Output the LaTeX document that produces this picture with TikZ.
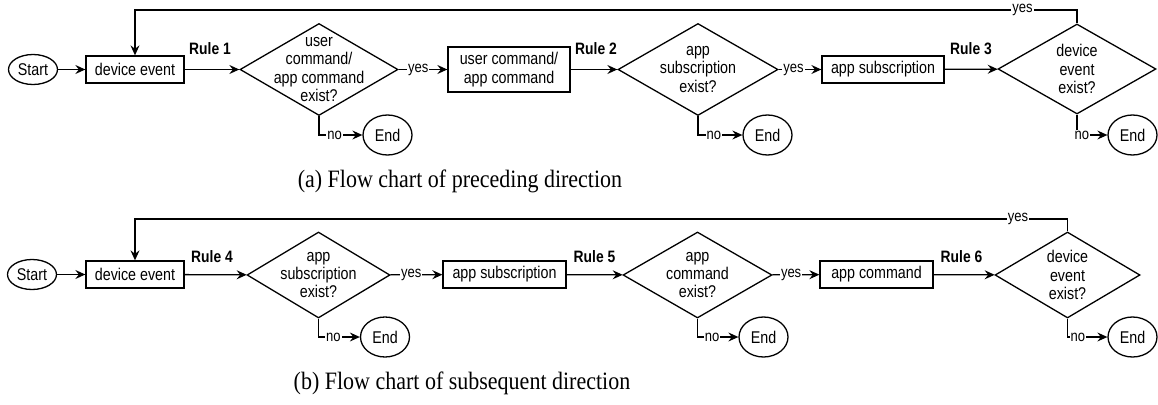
\documentclass[tikz,border=0pt]{standalone}
\usepackage{fontspec}
\newfontfamily\diagfont{Liberation Sans}[FakeStretch=0.84]
\newfontfamily\capfont{Liberation Serif}[FakeStretch=0.88]
\usetikzlibrary{shapes.geometric,arrows.meta}

\begin{document}
\begin{tikzpicture}[x=1pt,y=-1pt,
  txt/.style={font=\diagfont\fontsize{17}{18.3}\selectfont},
  proc/.style={txt, draw, line width=1.3pt, rectangle, inner sep=0pt, minimum height=27pt, align=center},
  term/.style={txt, draw, line width=1.3pt, ellipse, inner sep=0pt, minimum width=49pt, minimum height=30pt},
  decis/.style={draw, line width=1.3pt, diamond, inner sep=0pt},
  dtext/.style={txt, align=center, inner sep=0pt},
  flow/.style={line width=1.3pt, -{Stealth[length=10pt,width=9pt,inset=3.5pt]}},
  lbl/.style={fill=white, inner sep=1pt, font=\diagfont\fontsize{15.5}{16}\selectfont},
  rulelbl/.style={anchor=base, font=\diagfont\bfseries\fontsize{16.5}{18}\selectfont},
  captext/.style={font=\capfont\fontsize{25}{27}\selectfont}
]
\useasboundingbox (0,0) rectangle (1158,404);

% ---------- (a) preceding direction ----------
\node[term, minimum height=30pt] (sa) at (33,69.5) {Start};
\node[proc, minimum width=98pt] (pa1) at (135,69.5) {device event};
\node[decis, minimum width=158pt, minimum height=92pt] (da1) at (319,69.5) {};
\node[dtext] (ta1) at (da1) {user\\command/\\app command\\exist?};
\node[proc, minimum width=122pt, minimum height=45pt] (pa2) at (509,69.5)
  {user command/\\app command};
\node[decis, minimum width=160pt, minimum height=92pt] (da2) at (698,69.5) {};
\node[dtext] (ta2) at (da2) {app\\subscription\\exist?};
\node[proc, minimum width=122pt] (pa3) at (883,69.5) {app subscription};
\node[decis, minimum width=158pt, minimum height=90pt] (da3) at (1077,69) {};
\node[dtext] (ta3) at (da3) {device\\event\\exist?};
\node[term, minimum height=40pt] (ea1) at (387.5,135) {End};
\node[term, minimum height=40pt] (ea2) at (767.5,135) {End};
\node[term, minimum height=40pt] (ea3) at (1132.5,135) {End};

\node[rulelbl] (ra1) at (210,55) {Rule 1};
\node[rulelbl] (ra2) at (596,55) {Rule 2};
\node[rulelbl] (ra3) at (971,55) {Rule 3};

\coordinate (la1) at (1077,10);
\coordinate (la2) at (135,10);

\draw[flow] (sa) -- (pa1);
\draw[flow] (pa1) -- (da1);
\draw[flow] (da1) -- node[lbl, pos=0.4] {yes} (pa2);
\draw[flow] (pa2) -- (da2);
\draw[flow] (da2) -- node[lbl, pos=0.35] {yes} (pa3);
\draw[flow] (pa3) -- (da3);
\draw[flow] (da1.south) |- node[lbl, pos=0.68] {no} (ea1.west);
\draw[flow] (da2.south) |- node[lbl, pos=0.68] {no} (ea2.west);
\draw[flow] (da3.south) |- node[lbl, pos=0.58] {no} (ea3.west);
\draw[flow] (da3.north) -- (la1) -- node[lbl, pos=0.058] {yes} (la2) -- (pa1.north);

\node[captext] (capa) at (460,181) {(a) Flow chart of preceding direction};

% ---------- (b) subsequent direction ----------
\node[term, minimum height=30pt] (sb) at (32,274.5) {Start};
\node[proc, minimum width=98pt] (pb1) at (135,274.5) {device event};
\node[decis, minimum width=143pt, minimum height=86pt] (db1) at (318.5,275) {};
\node[dtext] (tb1) at (db1) {app\\subscription\\exist?};
\node[proc, minimum width=123pt] (pb2) at (504.5,274.5) {app subscription};
\node[decis, minimum width=149pt, minimum height=86pt] (db2) at (697.5,275) {};
\node[dtext] (tb2) at (db2) {app\\command\\exist?};
\node[proc, minimum width=113pt] (pb3) at (876.5,274.5) {app command};
\node[decis, minimum width=145pt, minimum height=86pt] (db3) at (1067.5,275) {};
\node[dtext] (tb3) at (db3) {device\\event\\exist?};
\node[term, minimum height=40pt] (eb1) at (385,337) {End};
\node[term, minimum height=40pt] (eb2) at (763.5,337) {End};
\node[term, minimum height=40pt] (eb3) at (1132.5,337) {End};

\node[rulelbl] (rb1) at (212,262) {Rule 4};
\node[rulelbl] (rb2) at (594.5,262) {Rule 5};
\node[rulelbl] (rb3) at (961.5,262) {Rule 6};

\coordinate (lb1) at (1067.5,219);
\coordinate (lb2) at (135,219);

\draw[flow] (sb) -- (pb1);
\draw[flow] (pb1) -- (db1);
\draw[flow] (db1) -- node[lbl, pos=0.4] {yes} (pb2);
\draw[flow] (pb2) -- (db2);
\draw[flow] (db2) -- node[lbl, pos=0.4] {yes} (pb3);
\draw[flow] (pb3) -- (db3);
\draw[flow] (db1.south) |- node[lbl, pos=0.68] {no} (eb1.west);
\draw[flow] (db2.south) |- node[lbl, pos=0.68] {no} (eb2.west);
\draw[flow] (db3.south) |- node[lbl, pos=0.63] {no} (eb3.west);
\draw[flow] (db3.north) -- (lb1) -- node[lbl, pos=0.053] {yes} (lb2) -- (pb1.north);

\node[captext] (capb) at (462,383) {(b) Flow chart of subsequent direction};
\end{tikzpicture}
\end{document}
